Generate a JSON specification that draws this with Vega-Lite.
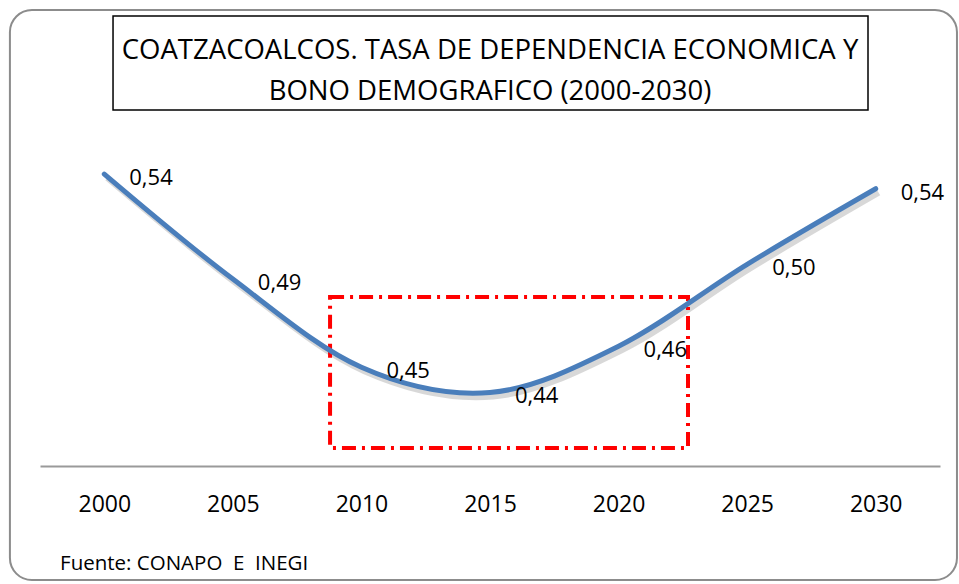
{
  "$schema": "https://vega.github.io/schema/vega-lite/v6.json",
  "width": 900,
  "height": 456,
  "autosize": {"type": "none"},
  "padding": {"left": 40, "top": 10, "right": 19, "bottom": 118},
  "background": "white",
  "config": {"view": {"stroke": null}, "font": "Open Sans"},
  "datasets": {
    "serie": [
      {"anio": 2000, "tasa": 0.544, "etiqueta": "0,54"},
      {"anio": 2005, "tasa": 0.494, "etiqueta": "0,49"},
      {"anio": 2010, "tasa": 0.452, "etiqueta": "0,45"},
      {"anio": 2015, "tasa": 0.440, "etiqueta": "0,44"},
      {"anio": 2020, "tasa": 0.462, "etiqueta": "0,46"},
      {"anio": 2025, "tasa": 0.501, "etiqueta": "0,50"},
      {"anio": 2030, "tasa": 0.537, "etiqueta": "0,54"}
    ],
    "marco": [{"x1": 1996.33, "x2": 2033.16, "y1": 0.6221, "y2": 0.3507}],
    "titulo": [{"x1": 2000.34, "x2": 2029.7, "y1": 0.6193, "y2": 0.5745, "xc": 2015.0, "yc": 0.6026, "texto": "COATZACOALCOS. TASA DE DEPENDENCIA ECONOMICA Y\nBONO DEMOGRAFICO (2000-2030)"}],
    "bono": [{"x1": 2008.78, "x2": 2022.7, "y1": 0.4855, "y2": 0.4136}],
    "fuente": [{"x": 1998.28, "y": 0.3583, "texto": "Fuente: CONAPO\u00a0 E\u00a0 INEGI"}]
  },
  "layer": [
    {
      "data": {"name": "serie"},
      "mark": {"type": "line", "interpolate": "cardinal", "tension": 0, "color": "#7f7f7f", "strokeWidth": 6, "opacity": 0.3, "xOffset": 3, "yOffset": 4},
      "encoding": {
        "x": {"field": "anio", "type": "quantitative", "scale": {"domain": [1997.5, 2032.5], "nice": false, "zero": false},
          "axis": {"values": [2000, 2005, 2010, 2015, 2020, 2025, 2030], "format": "d", "title": null, "ticks": false, "grid": false, "domainColor": "#9a9a9a", "domainWidth": 2, "labelFont": "Open Sans", "labelFontSize": 23, "labelColor": "#000000", "labelPadding": 27, "labelFlush": false}},
        "y": {"field": "tasa", "type": "quantitative", "scale": {"domain": [0.405, 0.6221], "nice": false, "zero": false}, "axis": null}
      }
    },
    {
      "data": {"name": "marco"},
      "mark": {"type": "rect", "fill": null, "fillOpacity": 0, "stroke": "#8c8c8c", "strokeWidth": 2, "cornerRadius": 22},
      "encoding": {
        "x": {"field": "x1", "type": "quantitative"},
        "x2": {"field": "x2"},
        "y": {"field": "y1", "type": "quantitative"},
        "y2": {"field": "y2"}
      }
    },
    {
      "data": {"name": "titulo"},
      "mark": {"type": "rect", "fill": "#8a8a8a", "opacity": 0.45, "xOffset": 5, "yOffset": 5},
      "encoding": {
        "x": {"field": "x1", "type": "quantitative"},
        "x2": {"field": "x2"},
        "y": {"field": "y1", "type": "quantitative"},
        "y2": {"field": "y2"}
      }
    },
    {
      "data": {"name": "titulo"},
      "mark": {"type": "rect", "fill": "white", "stroke": "#000000", "strokeWidth": 1.5},
      "encoding": {
        "x": {"field": "x1", "type": "quantitative"},
        "x2": {"field": "x2"},
        "y": {"field": "y1", "type": "quantitative"},
        "y2": {"field": "y2"}
      }
    },
    {
      "data": {"name": "titulo"},
      "mark": {"type": "text", "lineBreak": "\n", "lineHeight": 41, "fontSize": 27.5, "font": "Open Sans", "align": "center", "baseline": "middle", "color": "#000000"},
      "encoding": {
        "x": {"field": "xc", "type": "quantitative"},
        "y": {"field": "yc", "type": "quantitative"},
        "text": {"field": "texto"}
      }
    },
    {
      "data": {"name": "bono"},
      "mark": {"type": "rect", "fill": null, "fillOpacity": 0, "stroke": "#ff0000", "strokeWidth": 4, "strokeDash": [14, 6, 3, 6]},
      "encoding": {
        "x": {"field": "x1", "type": "quantitative"},
        "x2": {"field": "x2"},
        "y": {"field": "y1", "type": "quantitative"},
        "y2": {"field": "y2"}
      }
    },
    {
      "data": {"name": "serie"},
      "mark": {"type": "line", "interpolate": "cardinal", "tension": 0, "color": "#4a7ebb", "strokeWidth": 5, "strokeCap": "round"},
      "encoding": {
        "x": {"field": "anio", "type": "quantitative"},
        "y": {"field": "tasa", "type": "quantitative"}
      }
    },
    {
      "data": {"name": "serie"},
      "mark": {"type": "text", "align": "left", "baseline": "middle", "dx": 25, "dy": 4, "fontSize": 22, "font": "Open Sans", "color": "#000000"},
      "encoding": {
        "x": {"field": "anio", "type": "quantitative"},
        "y": {"field": "tasa", "type": "quantitative"},
        "text": {"field": "etiqueta"}
      }
    },
    {
      "data": {"name": "fuente"},
      "mark": {"type": "text", "align": "left", "baseline": "middle", "fontSize": 20.5, "font": "Open Sans", "color": "#000000"},
      "encoding": {
        "x": {"field": "x", "type": "quantitative"},
        "y": {"field": "y", "type": "quantitative"},
        "text": {"field": "texto"}
      }
    }
  ]
}
